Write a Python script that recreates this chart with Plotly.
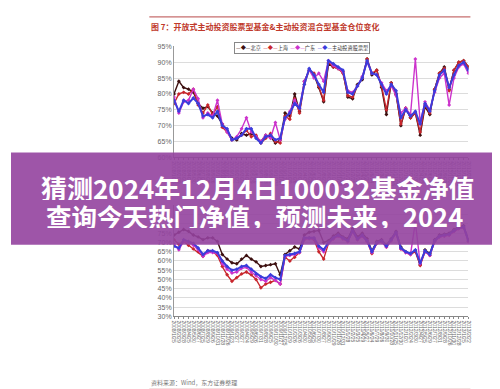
import plotly.graph_objects as go

dates = [
    "2008/1/25", "2008/2/29", "2008/3/28", "2008/4/25", "2008/5/30", "2008/6/27",
    "2008/7/25", "2008/8/29", "2008/9/26", "2008/10/31", "2008/11/28", "2008/12/26",
    "2009/1/23", "2009/2/27", "2009/3/27", "2009/4/24", "2009/5/29", "2009/6/26",
    "2009/7/31", "2009/8/28", "2009/9/25", "2009/10/30", "2009/11/27", "2009/12/25",
    "2010/1/29", "2010/2/26", "2010/3/26", "2010/4/30", "2010/5/28", "2010/6/25",
    "2010/7/30", "2010/8/27", "2010/9/30", "2010/10/29", "2010/11/26", "2010/12/31",
    "2011/1/28", "2011/2/25", "2011/3/25", "2011/4/29", "2011/5/27", "2011/6/24",
    "2011/7/29", "2011/8/26", "2011/9/30", "2011/10/28", "2011/11/25", "2011/12/30",
    "2012/1/20", "2012/2/24", "2012/3/30", "2012/4/27", "2012/5/25", "2012/6/29",
    "2012/7/27", "2012/8/31", "2012/9/28", "2012/10/26", "2012/11/30", "2012/12/28",
    "2013/1/25", "2013/2/22",
]

# Top chart: stock funds (%)
stock_beijing = [80, 84, 82, 81.5, 80.5, 77, 75.5, 76, 74, 73,
                 70.5, 68.5, 66, 65.5, 67.5, 67, 67.5, 66.5, 65, 67,
                 66.5, 64.5, 65.5, 74, 73, 80, 74.5, 84, 87.5, 86,
                 82, 77.5, 89.5, 88.5, 88, 87, 79, 78.5, 83, 84.5,
                 91, 86, 87.5, 82, 73.5, 83.5, 80, 70, 75.5, 72.5,
                 74, 67, 76, 73.5, 81.5, 86.5, 88.5, 81.5, 87.5, 90,
                 90.5, 88.5]
stock_shanghai = [77, 80, 80.5, 80, 81.5, 76.5, 74, 76.5, 73.5, 76,
                  69.5, 68, 65.5, 66, 67, 68.5, 66.5, 67, 64.5, 66,
                  67.5, 65, 64.5, 73, 72, 78.5, 74, 83, 87.5, 86.5,
                  82.5, 78, 90, 88.5, 88, 86.5, 79.5, 79, 82.5, 85,
                  91, 86.5, 87.5, 82.5, 75, 83.5, 80, 70.5, 75.5, 72.5,
                  74, 68, 76.5, 74, 81.5, 86.5, 88, 81, 87.5, 90,
                  90.5, 88.5]
stock_guangdong = [79, 74, 77.5, 78, 81.5, 78.5, 72.5, 74, 73, 78,
                   70.5, 68, 65.5, 66.5, 69, 72.5, 68, 66.5, 65, 67,
                   66, 71, 65.5, 72, 74.5, 78, 75.5, 84, 87.5, 85,
                   86.5, 84, 90.5, 89, 88, 87, 81, 80.5, 82.5, 85.5,
                   90, 86.5, 86, 83.5, 81, 82.5, 79.5, 74, 75.5, 73.5,
                   91, 71, 77.5, 75, 80.5, 85, 86.5, 76.5, 85, 88.5,
                   89.5, 86.5]
stock_active = [78, 74.5, 78, 77, 78.7, 77, 73, 73.5, 72.5, 74.5,
                70, 69, 65.5, 66, 67, 69, 69, 66, 64.5, 66.5,
                67, 65.5, 66, 72.5, 74, 77, 75.5, 83, 88, 86,
                83, 80.5, 90.5, 89.5, 88.5, 87.5, 80.5, 80, 82.5, 85,
                90.5, 86.5, 86, 83, 80, 83, 81, 72.5, 75, 73,
                74.5, 70.5, 77, 74.5, 81, 86, 87.5, 82, 86, 89,
                90, 87.5]

# Bottom chart: hybrid funds (%)
mix_beijing = [74, 75.5, 77, 76, 74, 73, 71.5, 72.5, 72.5, 70.5,
               63.5, 61, 59, 58.5, 61, 63, 61, 59.5, 57, 57.5,
               58, 58.5, 52.5, 63.5, 65.5, 67.5, 66.5, 74, 75.5, 76,
               76.5, 70, 71, 73.5, 75, 73, 72, 77.5, 73, 75,
               72, 65.5, 70.5, 71.5, 68.5, 72, 76, 67.5, 65, 64,
               65.5, 58, 66, 64, 71.5, 74, 74.5, 75, 77, 78.5,
               79, 71.5]
mix_shanghai = [71.5, 69, 70.5, 68.5, 66.5, 65, 62.5, 65.5, 65, 63,
                57, 52.5, 49, 51, 53, 54, 52.5, 50, 45.5, 47.5,
                48.5, 49.5, 47.5, 62, 60, 62, 64.5, 71.5, 72.5, 71.5,
                65, 61, 69.5, 72, 73.5, 72, 70.5, 76, 71.5, 73.5,
                70.5, 64, 69.5, 70.5, 67.5, 71, 75, 66.5, 64.5, 63.5,
                65, 57.5, 65, 63, 70.5, 73, 73.5, 74, 76, 77.5,
                78, 70.5]
mix_guangdong = [69, 66, 70.5, 70, 68.5, 66, 62.5, 64.5, 64.5, 64,
                 58.5, 55.5, 53.5, 54, 56, 56.5, 54, 52, 50, 49,
                 51, 49.5, 47.5, 62.5, 63, 63.5, 64.5, 72, 72, 72,
                 67, 65, 69.5, 72, 73.5, 72, 70.5, 76, 71.5, 73.5,
                 70.5, 64.5, 69.5, 70.5, 67.5, 71, 75, 66.5, 64.5, 63.5,
                 81, 58.5, 65, 63, 70.5, 73, 73.5, 74, 76, 77.5,
                 78, 70.5]
mix_active = [68, 67, 71.5, 70.5, 69.5, 67, 63.5, 65.5, 65.5, 64.5,
              60, 57, 55, 55.5, 57, 57.5, 55.5, 53, 51.5, 50.5,
              52.5, 51, 50, 63, 63.5, 64, 65, 72.5, 72.5, 72.5,
              68, 66, 70, 72.5, 74, 72.5, 71, 76.5, 72, 74,
              71, 65, 70, 71, 68, 71.5, 75.5, 67, 65, 64,
              66, 59, 65.5, 63.5, 71, 73.5, 74, 74.5, 76.5, 78,
              78.5, 71]

series_names = ["北京", "上海", "广东"]
stock_active_name = "主动投资股票型"
mix_active_name = "主动投资混合型"
colors = ["#3d1010", "#c8262c", "#cc33cc", "#3c3cdc"]

top_ticks = [60, 65, 70, 75, 80, 85, 90, 95]
bot_ticks = [30, 35, 40, 45, 50, 55, 60, 65, 70, 75, 80, 85, 90]
bot_tick_labels = ["30%", "35%", "40%", "45%", "50%", "55%", "60%", "65%", "70%", "75%", "", "", ""]

title_text = "图 7：开放式主动投资股票型基金&主动投资混合型基金仓位变化"
source_text = "资料来源：Wind，东方证券整理"
banner_line1 = "猜测2024年12月4日100032基金净值"
banner_line2 = "查询今天热门净值，预测未来，2024"

W, H = 500, 389
def py(y):
    return 1 - y / H

fig = go.Figure()

top_sets = [stock_beijing, stock_shanghai, stock_guangdong, stock_active]
top_names = series_names + [stock_active_name]
bot_sets = [mix_beijing, mix_shanghai, mix_guangdong, mix_active]
bot_names = series_names + [mix_active_name]

for k, (vals, name) in enumerate(zip(top_sets, top_names)):
    fig.add_trace(go.Scatter(
        x=dates, y=vals, name=name, mode="lines+markers",
        line=dict(color=colors[k], width=2 if k == 3 else 1.4),
        marker=dict(color=colors[k], size=3, symbol="diamond"),
        xaxis="x", yaxis="y", showlegend=False))

for k, (vals, name) in enumerate(zip(bot_sets, bot_names)):
    fig.add_trace(go.Scatter(
        x=dates, y=vals, name=name, mode="lines+markers",
        line=dict(color=colors[k], width=2 if k == 3 else 1.4),
        marker=dict(color=colors[k], size=3, symbol="diamond"),
        xaxis="x2", yaxis="y2", showlegend=False))

# legend for the top chart as one rich-text box
nb = "\u00a0"
legend_parts = []
for k, name in enumerate(top_names):
    legend_parts.append("<span style='color:%s'>—◆—</span>%s" % (colors[k], name))
legend_text = (nb * 2).join(legend_parts)

xdom = [165 / W, 463 / W]
axis_font = dict(family="Liberation Sans, Noto Sans CJK SC", size=7, color="#666")
xcommon = dict(type="category", range=[0, len(dates) - 1], tickmode="linear", dtick=1,
               tickangle=90, tickfont=dict(family="Liberation Sans", size=5, color="#666"),
               showline=True, linecolor="#888", ticks="outside", ticklen=2,
               tickcolor="#888", showgrid=False, zeroline=False)
ycommon = dict(tickmode="array", tickfont=axis_font, showgrid=True,
               gridcolor="#dcdcdc", gridwidth=1, showline=True, linecolor="#999",
               zeroline=False, ticks="")

fig.update_layout(
    width=W, height=H, autosize=False,
    margin=dict(l=0, r=0, t=0, b=0),
    paper_bgcolor="white", plot_bgcolor="white",
    font=dict(family="Liberation Sans, Noto Sans CJK SC"),
    showlegend=False,
    xaxis=dict(domain=xdom, anchor="y", **xcommon),
    yaxis=dict(domain=[py(148), py(35)], range=[60, 95], anchor="x",
               tickvals=top_ticks, ticktext=["%d%%" % v for v in top_ticks], **ycommon),
    xaxis2=dict(domain=xdom, anchor="y2", **xcommon),
    yaxis2=dict(domain=[py(310), py(197)], range=[30, 90], anchor="x2",
                tickvals=bot_ticks, ticktext=bot_tick_labels, **ycommon),
    shapes=[
        dict(type="line", xref="paper", yref="paper", x0=140 / W, x1=465 / W,
             y0=py(5), y1=py(5), line=dict(color="#b84a4a", width=1)),
        dict(type="line", xref="paper", yref="paper", x0=140 / W, x1=465 / W,
             y0=py(384), y1=py(384), line=dict(color="#e3b5b5", width=1)),
        dict(type="rect", xref="paper", yref="paper", x0=0, x1=1,
             y0=py(237), y1=py(143), fillcolor="rgba(148,66,158,0.9)",
             line=dict(width=0), layer="above"),
    ],
    annotations=[
        dict(text="<b>" + title_text + "</b>", xref="paper", yref="paper",
             x=140 / W, y=py(15), xanchor="left", yanchor="middle", showarrow=False,
             font=dict(family="Noto Sans CJK SC", size=8, color="#c0392b")),
        dict(text=legend_text, xref="paper", yref="paper",
             x=226 / W, y=py(31), xanchor="left", yanchor="top", showarrow=False,
             bgcolor="white", bordercolor="#888", borderwidth=1, borderpad=1,
             font=dict(family="Noto Sans CJK SC", size=5.2, color="#333")),
        dict(text=source_text, xref="paper", yref="paper",
             x=140 / W, y=py(377), xanchor="left", yanchor="middle", showarrow=False,
             font=dict(family="Noto Sans CJK SC", size=6, color="#777")),
        dict(text="<b>" + banner_line1 + "</b>", xref="paper", yref="paper",
             x=249 / W, y=py(178), xanchor="center", yanchor="middle", showarrow=False,
             height=26, borderpad=0,
             font=dict(family="Noto Sans CJK SC", size=26, color="white")),
        dict(text="<b>" + banner_line2 + "</b>", xref="paper", yref="paper",
             x=246 / W, y=py(207), xanchor="center", yanchor="middle", showarrow=False,
             height=25, borderpad=0,
             font=dict(family="Noto Sans CJK SC", size=25.5, color="white")),
    ],
)

fig.write_html("out.html")
